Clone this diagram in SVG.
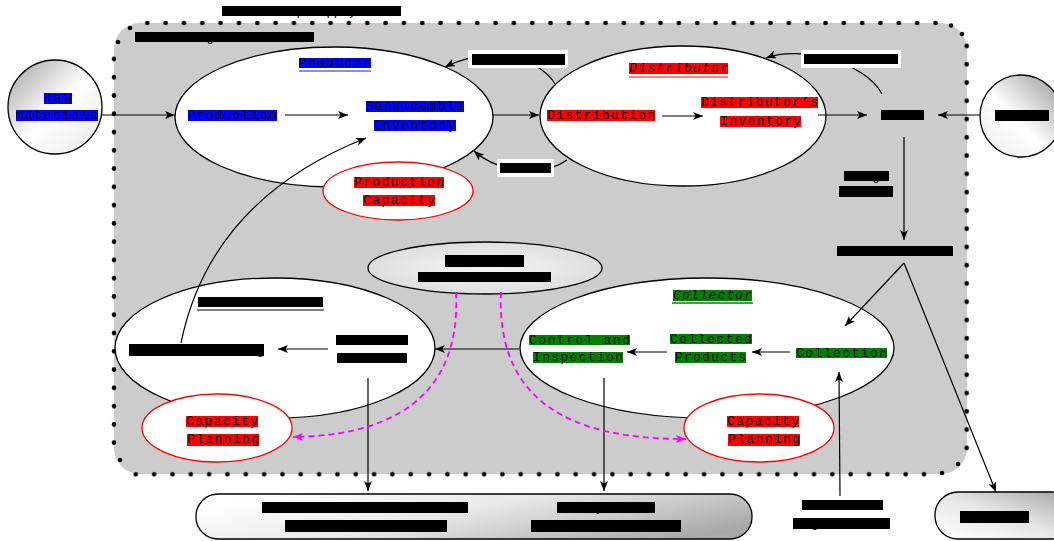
<svg xmlns="http://www.w3.org/2000/svg" width="1054" height="541" viewBox="0 0 1054 541">
<style>
.t{font-family:"Liberation Mono","Courier New",monospace;font-size:13px;fill:#111}
.k{fill:#000}
.i{font-style:italic}
.ln{fill:none;stroke:#000;stroke-width:1.2}
.mg{fill:none;stroke:#ff00ff;stroke-width:1.8;stroke-dasharray:6 4}
.el{fill:#fff;stroke:#000;stroke-width:1.3}
.cp{fill:#fff;stroke:#ff0000;stroke-width:1.3}
.bk{fill:#000}
.bl{fill:#0000ff}
.rd{fill:#ff0000}
.gr{fill:#008000}
.wb{fill:#fff}
</style>
<defs>
<marker id="ah" viewBox="0 0 10 8" refX="10" refY="4" markerWidth="10" markerHeight="8" markerUnits="userSpaceOnUse" orient="auto"><path d="M0,0 L10,4 L0,8 L2.5,4 z" fill="#000"/></marker>
<marker id="am" viewBox="0 0 10 8" refX="10" refY="4" markerWidth="10" markerHeight="8" markerUnits="userSpaceOnUse" orient="auto"><path d="M0,0 L10,4 L0,8 L2.5,4 z" fill="#ff00ff"/></marker>
<pattern id="dTop" x="138.135" y="20" width="18.33" height="6" patternUnits="userSpaceOnUse"><circle cx="9.165" cy="3" r="2.3" fill="#000"/></pattern>
<pattern id="dBot" x="126.645" y="471.3" width="18.33" height="6" patternUnits="userSpaceOnUse"><circle cx="9.165" cy="3" r="2.3" fill="#000"/></pattern>
<pattern id="dLeft" x="111" y="49.865" width="6" height="18.27" patternUnits="userSpaceOnUse"><circle cx="3" cy="9.135" r="2.3" fill="#000"/></pattern>
<pattern id="dRight" x="963.7" y="36.865" width="6" height="18.27" patternUnits="userSpaceOnUse"><circle cx="3" cy="9.135" r="2.3" fill="#000"/></pattern>
<linearGradient id="gRaw" x1="0.1" y1="0.1" x2="0.85" y2="0.85"><stop offset="0" stop-color="#b4b4b4"/><stop offset="0.55" stop-color="#ffffff"/><stop offset="1" stop-color="#f0f0f0"/></linearGradient>
<linearGradient id="gCus" x1="0.9" y1="0.1" x2="0.15" y2="0.85"><stop offset="0" stop-color="#a8a8a8"/><stop offset="0.6" stop-color="#ffffff"/><stop offset="1" stop-color="#f4f4f4"/></linearGradient>
<radialGradient id="gInf" cx="0.5" cy="0.5" r="0.55"><stop offset="0" stop-color="#f6f6f6"/><stop offset="1" stop-color="#dcdcdc"/></radialGradient>
<linearGradient id="gBot" x1="0" y1="0.3" x2="1" y2="0.7"><stop offset="0" stop-color="#ffffff"/><stop offset="0.45" stop-color="#e8e8e8"/><stop offset="1" stop-color="#a8a8a8"/></linearGradient>
<linearGradient id="gDis" x1="0" y1="1" x2="1" y2="0"><stop offset="0" stop-color="#ffffff"/><stop offset="0.5" stop-color="#e6e6e6"/><stop offset="1" stop-color="#a0a0a0"/></linearGradient>
</defs>

<g id="title">
<rect class="bk" x="222" y="6" width="179" height="10"/>
<text class="t k" x="222" y="15" textLength="179" lengthAdjust="spacingAndGlyphs">Closed Loop Supply Chain</text>
</g>

<g id="network">
<rect x="114" y="23" width="853" height="451" rx="26" fill="#cccccc"/>
<rect x="138.135" y="20" width="806.5" height="6" fill="url(#dTop)"/>
<rect x="126.645" y="471.3" width="806.5" height="6" fill="url(#dBot)"/>
<rect x="111" y="49.865" width="6" height="401.9" fill="url(#dLeft)"/>
<rect x="963.7" y="36.865" width="6" height="420.2" fill="url(#dRight)"/>
<g fill="#000">
<circle cx="130" cy="28" r="2.3"/>
<circle cx="118" cy="42" r="2.3"/>
<circle cx="951" cy="25.5" r="2.3"/>
<circle cx="962" cy="34" r="2.3"/>
<circle cx="958" cy="464" r="2.3"/>
<circle cx="942" cy="473" r="2.3"/>
<circle cx="120" cy="460" r="2.3"/>
</g>
<rect class="bk" x="135" y="32" width="179" height="10"/>
<text class="t k" x="135" y="41" textLength="179" lengthAdjust="spacingAndGlyphs">Reverse Logistics Network</text>
</g>

<g id="raw-materials">
<circle cx="55" cy="107" r="47" fill="url(#gRaw)" stroke="#000" stroke-width="1.3"/>
<rect class="bl" x="44" y="93" width="28" height="11"/>
<text class="t" x="44" y="102" textLength="28" lengthAdjust="spacing">Raw</text>
<rect class="bl" x="16" y="110" width="82" height="11"/>
<text class="t" x="16" y="119" textLength="82" lengthAdjust="spacing">materials</text>
</g>

<g id="customer">
<circle cx="1021" cy="116" r="41" fill="url(#gCus)" stroke="#000" stroke-width="1.3"/>
<rect class="bk" x="995" y="110" width="54" height="11"/>
<text class="t k" x="995" y="119" textLength="54" lengthAdjust="spacing">Demand</text>
</g>

<g id="producer">
<ellipse class="el" cx="334" cy="117" rx="159" ry="70"/>
<rect class="bl" x="299" y="58" width="72" height="10"/>
<text class="t i" x="299" y="67" textLength="72" lengthAdjust="spacing">Producer</text>
<line x1="299" y1="71" x2="371" y2="71" stroke="#8888ff" stroke-width="2"/>
<rect class="bl" x="188" y="110" width="89" height="11"/>
<text class="t" x="188" y="119" textLength="89" lengthAdjust="spacing">Production</text>
<rect class="bl" x="366" y="101" width="98" height="11"/>
<text class="t" x="366" y="110" textLength="98" lengthAdjust="spacing">Serviceable</text>
<rect class="bl" x="374" y="120" width="82" height="11"/>
<text class="t" x="374" y="129" textLength="82" lengthAdjust="spacing">Inventory</text>
</g>

<g id="distributor">
<ellipse class="el" cx="683" cy="116" rx="143" ry="70"/>
<rect class="rd" x="629" y="63" width="99" height="11"/>
<text class="t i" x="629" y="72" textLength="99" lengthAdjust="spacing">Distributor</text>
<line x1="629" y1="77" x2="728" y2="77" stroke="#ff8080" stroke-width="2"/>
<rect class="rd" x="547" y="110" width="108" height="11"/>
<text class="t" x="547" y="119" textLength="108" lengthAdjust="spacing">Distribution</text>
<rect class="rd" x="701" y="97" width="117" height="11"/>
<text class="t" x="701" y="106" textLength="117" lengthAdjust="spacing">Distributor’s</text>
<rect class="rd" x="720" y="116" width="81" height="11"/>
<text class="t" x="720" y="125" textLength="81" lengthAdjust="spacing">Inventory</text>
</g>

<g id="production-capacity">
<ellipse class="cp" cx="398" cy="191" rx="75" ry="29"/>
<rect class="rd" x="354" y="177" width="90" height="11"/>
<text class="t" x="354" y="186" textLength="90" lengthAdjust="spacing">Production</text>
<rect class="rd" x="363" y="195" width="72" height="11"/>
<text class="t" x="363" y="204" textLength="72" lengthAdjust="spacing">Capacity</text>
</g>

<g id="information-center">
<ellipse cx="485" cy="268" rx="117" ry="26" fill="url(#gInf)" stroke="#000" stroke-width="1.3"/>
<rect class="bk" x="445" y="255" width="79" height="12"/>
<text class="t k" x="445" y="265" textLength="79" lengthAdjust="spacing">Decision</text>
<rect class="bk" x="418" y="272" width="133" height="10"/>
<text class="t k" x="418" y="281" textLength="133" lengthAdjust="spacing">Information Center</text>
</g>

<g id="remanufacturer">
<ellipse class="el" cx="275" cy="348" rx="160" ry="70"/>
<rect class="bk" x="198" y="297" width="125" height="10"/>
<text class="t k" x="198" y="306" textLength="125" lengthAdjust="spacing">Remanufacturer</text>
<line x1="197" y1="310" x2="324" y2="310" stroke="#000" stroke-width="1"/>
<rect class="bk" x="336" y="335" width="72" height="10"/>
<text class="t k" x="336" y="344" textLength="72" lengthAdjust="spacing">Returned</text>
<rect class="bk" x="337" y="353" width="70" height="10"/>
<text class="t k" x="337" y="362" textLength="70" lengthAdjust="spacing">Products</text>
</g>

<g id="collector">
<ellipse class="el" cx="707" cy="348" rx="187" ry="70"/>
<rect class="gr" x="673" y="290" width="79" height="11"/>
<text class="t i" x="673" y="299" textLength="79" lengthAdjust="spacing">Collector</text>
<line x1="672" y1="303" x2="753" y2="303" stroke="#008000" stroke-width="1.5"/>
<rect class="gr" x="529" y="335" width="101" height="10"/>
<text class="t" x="529" y="344" textLength="101" lengthAdjust="spacing">Control and</text>
<rect class="gr" x="533" y="352" width="90" height="11"/>
<text class="t" x="533" y="361" textLength="90" lengthAdjust="spacing">Inspection</text>
<rect class="gr" x="670" y="334" width="82" height="10"/>
<text class="t" x="670" y="343" textLength="82" lengthAdjust="spacing">Collected</text>
<rect class="gr" x="675" y="352" width="71" height="11"/>
<text class="t" x="675" y="361" textLength="71" lengthAdjust="spacing">Products</text>
<rect class="gr" x="796" y="348" width="91" height="10"/>
<text class="t" x="796" y="357" textLength="91" lengthAdjust="spacing">Collection</text>
</g>

<g id="capacity-planning-left">
<ellipse class="cp" cx="217" cy="428" rx="75" ry="34"/>
<rect class="rd" x="186" y="416" width="72" height="11"/>
<text class="t" x="186" y="425" textLength="72" lengthAdjust="spacing">Capacity</text>
<rect class="rd" x="187" y="434" width="72" height="12"/>
<text class="t" x="187" y="443" textLength="72" lengthAdjust="spacing">Planning</text>
</g>

<g id="capacity-planning-right">
<ellipse class="cp" cx="759" cy="428" rx="75" ry="34"/>
<rect class="rd" x="727" y="416" width="72" height="11"/>
<text class="t" x="727" y="425" textLength="72" lengthAdjust="spacing">Capacity</text>
<rect class="rd" x="728" y="434" width="72" height="12"/>
<text class="t" x="728" y="443" textLength="72" lengthAdjust="spacing">Planning</text>
</g>

<g id="connectors">
<path class="ln" d="M102,115 L175,115" marker-end="url(#ah)"/>
<path class="ln" d="M285,115 L348,115" marker-end="url(#ah)"/>
<path class="ln" d="M493,115 L539,115" marker-end="url(#ah)"/>
<path class="ln" d="M662,116 L703,116" marker-end="url(#ah)"/>
<path class="ln" d="M818,115 L867,115" marker-end="url(#ah)"/>
<path class="ln" d="M980,115 L938,115" marker-end="url(#ah)"/>
<path class="ln" d="M904,137 L904,240" marker-end="url(#ah)"/>
<path class="ln" d="M904,263 L845,326" marker-end="url(#ah)"/>
<path class="ln" d="M904,263 L996,492" marker-end="url(#ah)"/>
<path class="ln" d="M555,84 C540,58 490,45 445,67" marker-end="url(#ah)"/>
<path class="ln" d="M882,94 C865,62 800,45 766,58" marker-end="url(#ah)"/>
<path class="ln" d="M567,160 C545,176 500,174 474,151" marker-end="url(#ah)"/>
<path class="ln" d="M181,343 C200,250 260,180 366,138" marker-end="url(#ah)"/>
<path class="ln" d="M328,349 L278,349" marker-end="url(#ah)"/>
<path class="ln" d="M519,349 L435,349" marker-end="url(#ah)"/>
<path class="ln" d="M667,352 L627,352" marker-end="url(#ah)"/>
<path class="ln" d="M790,352 L752,352" marker-end="url(#ah)"/>
<path class="ln" d="M368,378 L368,491" marker-end="url(#ah)"/>
<path class="ln" d="M604,378 L604,491" marker-end="url(#ah)"/>
<path class="ln" d="M840,496 L839,372" marker-end="url(#ah)"/>
<path class="mg" d="M456,292 C462,405 380,436 293,437" marker-end="url(#am)"/>
<path class="mg" d="M501,292 C495,420 600,439 686,439" marker-end="url(#am)"/>
</g>

<g id="remanufacturing">
<rect class="bk" x="129" y="344" width="135" height="12"/>
<text class="t k" x="129" y="354" textLength="135" lengthAdjust="spacing">Remanufacturing</text>
</g>

<g id="label-flow-1">
<rect class="wb" x="468" y="50" width="100" height="18"/>
<rect class="bk" x="472" y="54" width="93" height="11"/>
<text class="t k" x="472" y="63" textLength="93" lengthAdjust="spacing">Order Flow</text>
</g>
<g id="label-flow-2">
<rect class="wb" x="801" y="50" width="100" height="18"/>
<rect class="bk" x="804" y="54" width="94" height="10"/>
<text class="t k" x="804" y="63" textLength="94" lengthAdjust="spacing">Order Flow</text>
</g>
<g id="label-flow-3">
<rect class="wb" x="497" y="159" width="57" height="18"/>
<rect class="bk" x="500" y="163" width="51" height="10"/>
<text class="t k" x="500" y="172" textLength="51" lengthAdjust="spacing">Stock</text>
</g>

<g id="users">
<rect class="bk" x="881" y="110" width="43" height="10"/>
<text class="t k" x="881" y="119" textLength="43" lengthAdjust="spacing">Users</text>
</g>
<g id="usage-label">
<rect class="bk" x="844" y="171" width="45" height="10"/>
<text class="t k" x="844" y="180" textLength="45" lengthAdjust="spacing">Usage</text>
<rect class="bk" x="839" y="186" width="54" height="11"/>
<text class="t k" x="839" y="195" textLength="54" lengthAdjust="spacing">Period</text>
</g>
<g id="used-products">
<rect class="bk" x="837" y="246" width="116" height="10"/>
<text class="t k" x="837" y="255" textLength="116" lengthAdjust="spacing">Used Products</text>
</g>

<g id="bottom-market">
<rect x="196" y="494" width="556" height="45" rx="22" fill="url(#gBot)" stroke="#000" stroke-width="1.3"/>
<rect class="bk" x="262" y="502" width="206" height="11"/>
<text class="t k" x="262" y="511" textLength="206" lengthAdjust="spacing">Remanufactured Products</text>
<rect class="bk" x="285" y="520" width="162" height="12"/>
<text class="t k" x="285" y="529" textLength="162" lengthAdjust="spacing">Secondary Market</text>
<rect class="bk" x="557" y="502" width="98" height="11"/>
<text class="t k" x="557" y="511" textLength="98" lengthAdjust="spacing">Recycled</text>
<rect class="bk" x="531" y="520" width="150" height="12"/>
<text class="t k" x="531" y="529" textLength="150" lengthAdjust="spacing">Material Market</text>
</g>

<g id="disposal">
<rect x="935" y="492" width="140" height="47" rx="23" fill="url(#gDis)" stroke="#000" stroke-width="1.3"/>
<rect class="bk" x="960" y="511" width="69" height="12"/>
<text class="t k" x="960" y="520" textLength="69" lengthAdjust="spacing">Disposal</text>
</g>

<g id="take-back">
<rect class="bk" x="802" y="500" width="81" height="10"/>
<text class="t k" x="802" y="509" textLength="81" lengthAdjust="spacing">Take-back</text>
<rect class="bk" x="793" y="518" width="97" height="11"/>
<text class="t k" x="793" y="527" textLength="97" lengthAdjust="spacing">Legislation</text>
</g>
</svg>
